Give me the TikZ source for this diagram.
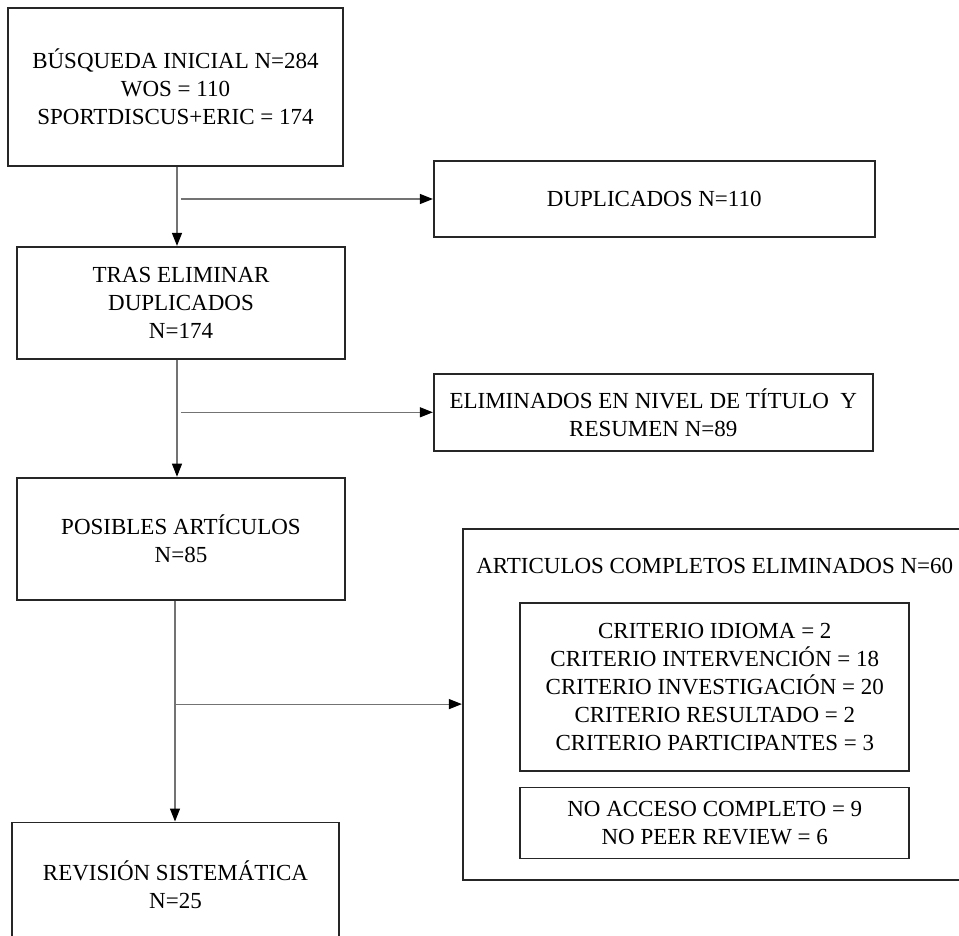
\documentclass[tikz,border=0pt]{standalone}
\usepackage{fontspec}
\setmainfont{Liberation Serif}
\usetikzlibrary{arrows.meta,positioning}

\begin{document}
\begin{tikzpicture}[
  x=1pt, y=1pt,
  box/.style   = {rectangle, draw=black!85, line width=1.8pt,
                  align=center, inner sep=0pt,
                  font=\fontsize{23}{28}\selectfont},
  head/.style  = {inner sep=0pt, font=\fontsize{23}{28}\selectfont},
  arrow/.style = {-{Triangle[length=13pt,width=10pt,color=black]},
                  line width=1.1pt, draw=black!55}
]

\path[use as bounding box, fill=white] (-175.5,87) rectangle (783.5,-849);

%% --- Main column ---------------------------------------------------
\node[box, minimum width=335pt, minimum height=158pt] (busq)
  {BÚSQUEDA INICIAL N=284\\ WOS = 110\\ SPORTDISCUS+ERIC = 174};

\node[box, minimum width=328pt, minimum height=112pt,
      below=79pt of busq, xshift=5.5pt] (tras)
  {TRAS ELIMINAR\\ DUPLICADOS\\ N=174};

\node[box, minimum width=328pt, minimum height=122pt,
      below=117pt of tras] (posib)
  {POSIBLES ARTÍCULOS\\ N=85};

\node[box, minimum width=327pt, minimum height=124pt,
      below=221pt of posib, xshift=-5.5pt] (revis)
  {REVISIÓN SISTEMÁTICA\\ N=25};

%% --- Excluded records (right column) -------------------------------
\node[box, minimum width=441pt, minimum height=76pt,
      right=89pt of busq, yshift=-112pt] (dup)
  {DUPLICADOS N=110};

\node[box, minimum width=439pt, minimum height=77pt,
      right=87pt of tras, yshift=-109.5pt] (elim)
  {ELIMINADOS EN NIVEL DE TÍTULO\ \ Y\\ RESUMEN N=89};

\node[box, minimum width=504pt, minimum height=351pt,
      right=116pt of posib, yshift=-165.5pt] (excl) {};

\node[head] (exclhead) at ([yshift=-38pt]excl.north)
  {ARTICULOS COMPLETOS ELIMINADOS N=60};

\node[box, minimum width=389pt, minimum height=168pt,
      below=74pt of excl.north] (crit)
  {CRITERIO IDIOMA = 2\\ CRITERIO INTERVENCIÓN = 18\\
   CRITERIO INVESTIGACIÓN = 20\\ CRITERIO RESULTADO = 2\\
   CRITERIO PARTICIPANTES = 3};

\node[box, minimum width=389pt, minimum height=71pt,
      below=15pt of crit] (acceso)
  {NO ACCESO COMPLETO = 9\\ NO PEER REVIEW = 6};

%% --- Spine and fork points -----------------------------------------
\coordinate[xshift=1.5pt] (spine1) at (busq.south);
\coordinate[xshift=-4pt]  (spine2) at (tras.south);
\coordinate[xshift=-6pt]  (spine3) at (posib.south);
\coordinate[xshift=5.5pt] (fork1) at (busq.south |- dup.west);
\coordinate (fork2) at (tras.south |- elim.west);
\coordinate (fork3) at (spine3 |- excl.west);

%% --- Arrows --------------------------------------------------------
\draw[arrow] (spine1) -- (spine1 |- tras.north);
\draw[arrow] (spine2) -- (spine2 |- posib.north);
\draw[arrow] (spine3) -- (spine3 |- revis.north);

\draw[arrow] (fork1) -- (dup.west);
\draw[arrow] (fork2) -- (fork2 -| elim.west);
\draw[arrow] (fork3) -- (excl.west);

\end{tikzpicture}
\end{document}
